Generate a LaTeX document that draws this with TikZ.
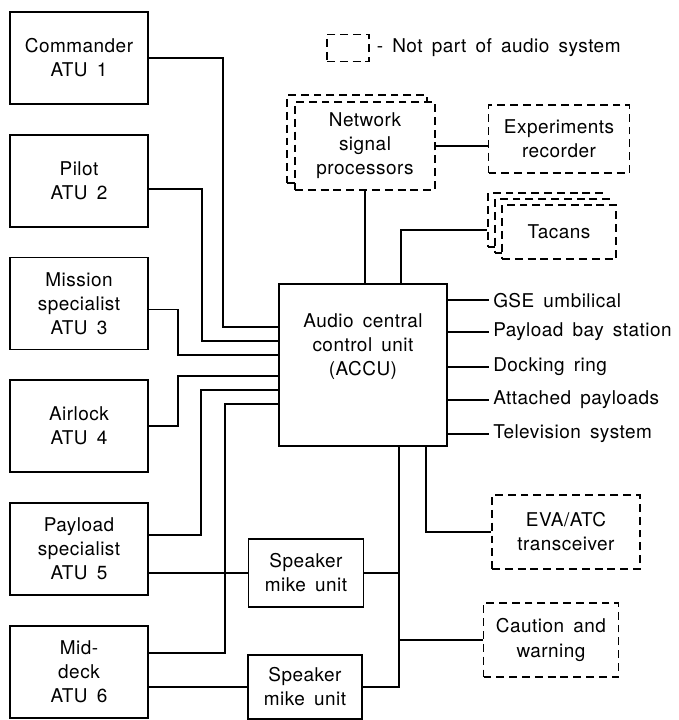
\documentclass[tikz,border=0pt]{standalone}
\usepackage{fontspec}
\setmainfont{TeX Gyre Heros}[WordSpace=1.6, LetterSpace=2.5]
\usetikzlibrary{positioning}
\newcommand{\labelfont}{\fontsize{10.8}{13.7}\selectfont}

\begin{document}
\begin{tikzpicture}[
  x=0.02cm, y=-0.02cm,
  node distance=5.8mm and 10mm,
  line width=1pt,
  box/.style={draw, align=center, font=\labelfont, inner sep=2pt},
  atu/.style={box, minimum width=27.6mm, minimum height=18.4mm},
  spk/.style={box, minimum width=23mm, minimum height=13.6mm},
  ext/.style={box, dash pattern=on 4.5pt off 2.8pt, fill=white},
  lbl/.style={font=\labelfont, inner sep=2pt}
]
  \useasboundingbox (0,0) rectangle (679,720);

  \node[atu] (cmd) at (79,58) {Commander\\ATU 1};
  \node[atu, below=of cmd] (plt) {Pilot\\ATU 2};
  \node[atu, below=of plt] (msn) {Mission\\specialist\\ATU 3};
  \node[atu, below=of msn] (alk) {Airlock\\ATU 4};
  \node[atu, below=of alk] (psp) {Payload\\specialist\\ATU 5};
  \node[atu, below=of psp] (mid) {Mid-\\deck\\ATU 6};

  \node[box, minimum width=33.6mm, minimum height=32.4mm, text depth=8mm] (accu) at (363,365)
    {Audio central\\control unit\\(ACCU)};

  \node[spk] (spk1) at (306,573) {Speaker\\mike unit};
  \node[spk, minimum width=22.8mm, minimum height=12.8mm] (spk2) at (305,687) {Speaker\\mike unit};

  \node[ext, minimum width=8.4mm, minimum height=5.4mm] (key) at (348,48) {};
  \node[lbl, right=0.5mm of key] (keytxt) {- Not part of audio system};

  \node[ext, minimum width=28mm, minimum height=17.6mm] (nspb) at (357,139) {};
  \node[ext, minimum width=28mm, minimum height=17.6mm] (nsp) at ([shift={(8,7)}]nspb.center)
    {Network\\signal\\processors};
  \node[ext, minimum width=28.2mm, minimum height=13.6mm] (exp) at (559,139) {Experiments\\recorder};

  \node[ext, minimum width=22.8mm, minimum height=10.8mm] (tacb) at (545,220) {};
  \node[ext, minimum width=22.8mm, minimum height=10.8mm] (tacm) at ([shift={(7,6)}]tacb.center) {};
  \node[ext, minimum width=22.8mm, minimum height=10.8mm] (tac) at ([shift={(7,6)}]tacm.center) {Tacans};

  \node[ext, minimum width=29.6mm, minimum height=14.8mm] (eva) at (566,532) {EVA/ATC\\transceiver};
  \node[ext, minimum width=27mm, minimum height=14.8mm] (caut) at (551,640) {Caution and\\warning};

  \foreach \dy/\txt [count=\i] in {0.34cm/GSE umbilical, 0.98cm/Payload bay station,
      1.68cm/Docking ring, 2.34cm/Attached payloads, 3.02cm/Television system} {
    \node[lbl, anchor=west] (out\i) at ([xshift=8.2mm, yshift=-\dy]accu.north east) {\txt};
    \draw (out\i.west) -- (out\i.west -| accu.east);
  }

  \draw ([yshift=-8.8mm]accu.north west) -| ([xshift=14.8mm]cmd.east) -- (cmd.east);
  \draw ([yshift=-11.6mm]accu.north west) -| ([xshift=10.6mm, yshift=-1.6mm]plt.east) -- ([yshift=-1.6mm]plt.east);
  \draw ([yshift=-14.4mm]accu.north west) -| ([xshift=5.8mm, yshift=-1.2mm]msn.east) -- ([yshift=-1.2mm]msn.east);
  \draw ([yshift=-18.6mm]accu.north west) -| ([xshift=5.8mm]alk.east) -- (alk.east);
  \draw ([yshift=-21.4mm]accu.north west) -| ([xshift=10.4mm, yshift=2.8mm]psp.east) -- ([yshift=2.8mm]psp.east);
  \draw ([yshift=-24.2mm]accu.north west) -| ([xshift=15.2mm, yshift=3.8mm]mid.east) -- ([yshift=3.8mm]mid.east);

  \draw (spk1.west) -- (spk1.west -| psp.east);
  \draw (spk2.west) -- (spk2.west -| mid.east);

  \draw (nsp.south) -- (nsp.south |- accu.north);
  \draw (nsp.east) -- (nsp.east -| exp.west);
  \draw ([xshift=7.6mm]accu.north) |- ([yshift=-2mm]tacb.west);

  \coordinate (bus) at ([xshift=7.2mm]accu.south);
  \draw (bus) |- (spk2.east);
  \draw (spk1.east) -- (spk1.east -| bus);
  \draw (caut.west) -- (caut.west -| bus);
  \draw ([xshift=12.6mm]accu.south) |- (eva.west);
\end{tikzpicture}
\end{document}
